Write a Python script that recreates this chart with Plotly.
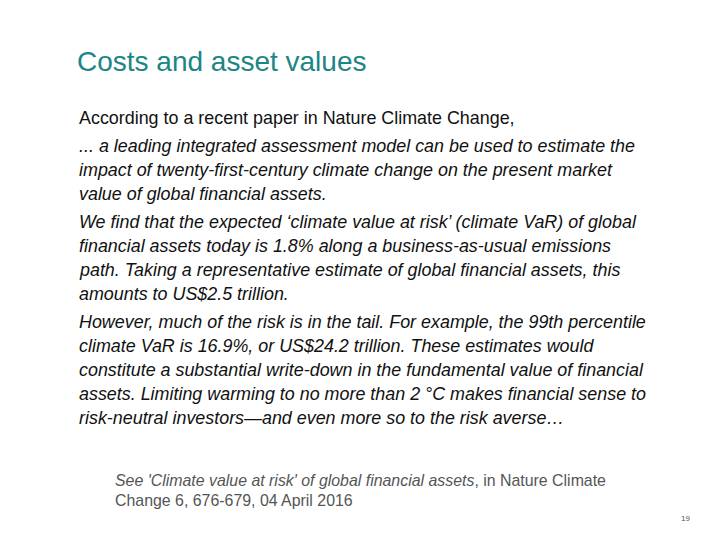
import plotly.graph_objects as go

title = "Costs and asset values"
intro = "According to a recent paper in Nature Climate Change,"
quote_lines = [
    "... a leading integrated assessment model can be used to estimate the",
    "impact of twenty-first-century climate change on the present market",
    "value of global financial assets.",
    "We find that the expected \u2018climate value at risk\u2019 (climate VaR) of global",
    "financial assets today is 1.8% along a business-as-usual emissions",
    "path. Taking a representative estimate of global financial assets, this",
    "amounts to US$2.5 trillion.",
    "However, much of the risk is in the tail. For example, the 99th percentile",
    "climate VaR is 16.9%, or US$24.2 trillion. These estimates would",
    "constitute a substantial write-down in the fundamental value of financial",
    "assets. Limiting warming to no more than 2 \u00b0C makes financial sense to",
    "risk-neutral investors\u2014and even more so to the risk averse\u2026",
]
quote_y = [146, 170, 194, 222, 246, 270, 294, 322, 346, 370, 394, 418]
citation = [
    "<i>See 'Climate value at risk' of global financial assets</i>, in Nature Climate",
    "Change 6, 676-679, 04 April 2016",
]
citation_y = [480, 500]
page_no = "19"

W, H = 720, 540
FONT = "Liberation Sans, Arial, sans-serif"
# the page body adds about 8px of margin, shift the text back
DX, DY = -9, -8


def ann(text, x, y, size, color="#111111"):
    return dict(text=text, x=(x + DX) / W, y=1 - (y + DY) / H,
                xref="paper", yref="paper",
                xanchor="left", yanchor="middle", showarrow=False,
                font=dict(family=FONT, size=size, color=color))


annotations = [ann(title, 76, 62, 28, "#1c8585"),
               ann(intro, 78, 118, 17.9)]
for line, y in zip(quote_lines, quote_y):
    annotations.append(ann("<i>" + line + "</i>", 78, y, 17.9))
for line, y in zip(citation, citation_y):
    annotations.append(ann(line, 114, y, 15.9, "#555555"))
annotations.append(ann(page_no, 680, 518, 8, "#555555"))

fig = go.Figure()
fig.update_layout(
    width=W, height=H,
    margin=dict(l=0, r=0, t=0, b=0),
    paper_bgcolor="white", plot_bgcolor="white",
    xaxis=dict(visible=False), yaxis=dict(visible=False),
    annotations=annotations,
)
fig.write_html("out.html")
